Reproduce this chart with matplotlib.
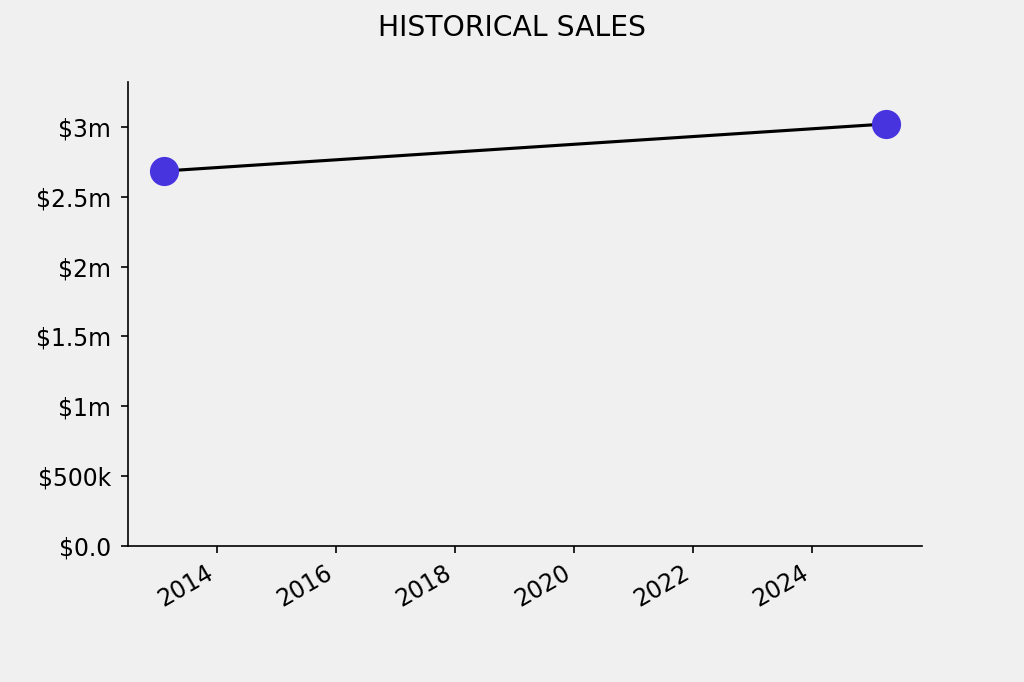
import matplotlib
matplotlib.use("Agg")
import matplotlib.pyplot as plt
import matplotlib.ticker as mticker
import numpy as np
import pandas as pd

# data
dates = pd.to_datetime(["2013-02-10", "2025-03-25"])
sales = [2_685_000, 3_022_000]

def money(v, pos):
    if v == 0:
        return "$0.0"
    if v >= 1_000_000:
        return "${:g}m".format(v / 1_000_000)
    return "${:g}k".format(v / 1_000)

plt.rcParams["font.size"] = 11.3
fig, ax = plt.subplots(figsize=(1024 / 150, 682 / 150), dpi=150)
fig.patch.set_facecolor("#f0f0f0")
ax.set_facecolor("#f0f0f0")

ax.plot(dates, sales, color="black", linewidth=1.5, zorder=2)
ax.plot(dates, sales, "o", color="#4834df", markersize=13, zorder=3)

ax.set_ylim(0, max(sales) * 1.1)
ax.yaxis.set_major_locator(mticker.MultipleLocator(500_000))
ax.yaxis.set_major_formatter(mticker.FuncFormatter(money))
ax.tick_params(axis="y", pad=4.5)

ax.spines["top"].set_visible(False)
ax.spines["right"].set_visible(False)

fig.autofmt_xdate()
fig.subplots_adjust(left=0.125, right=0.9, bottom=0.2, top=0.88)
fig.suptitle("HISTORICAL SALES")

fig.savefig("out.png", dpi=150, facecolor=fig.get_facecolor())
